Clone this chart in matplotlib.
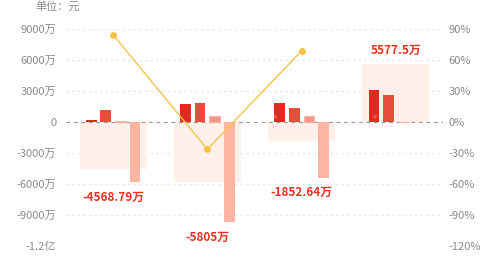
import numpy as np
import matplotlib
matplotlib.use("Agg")
import matplotlib.pyplot as plt

plt.rcParams['font.family'] = ['Noto Sans CJK SC', 'DejaVu Sans']
plt.rcParams['hatch.linewidth'] = 0.4

# Data (万元)
groups = ["G1", "G2", "G3", "G4"]
s1 = [150, 1690, 1790, 3050]
s2 = [1120, 1850, 1365, 2590]
s3 = [100, 525, 525, 0]
s4 = [-5850, -9740, -5400, 0]
totals = [-4568.79, -5805, -1852.64, 5577.5]
total_labels = ["-4568.79万", "-5805万", "-1852.64万", "5577.5万"]
pct = [84.4, -26.6, 68.9, np.nan]

left_ticks = [-12000, -9000, -6000, -3000, 0, 3000, 6000, 9000]
left_labels = ["-1.2亿", "-9000万", "-6000万", "-3000万", "0", "3000万", "6000万", "9000万"]
right_ticks = [-120, -90, -60, -30, 0, 30, 60, 90]
right_labels = ["-120%", "-90%", "-60%", "-30%", "0%", "30%", "60%", "90%"]

fig = plt.figure(figsize=(5, 2.6), dpi=100)
ax = fig.add_axes([0.132, 0.055, 0.754, 0.8335])
ax2 = ax.twinx()

x = np.arange(len(groups))
gray = "#8a8a8a"

# background total rects
ax.bar(x, totals, width=0.71, color="#fff0ea", zorder=1, linewidth=0)

# gridlines
for t in left_ticks:
    if t == 0:
        ax.axhline(0, color="#9a9a9a", lw=0.9, ls=(0, (3, 3)), zorder=1.5)
    else:
        ax.axhline(t, color="#e0e0e0", lw=0.9, ls=(0, (1.5, 3)), zorder=0.5)

w = 0.1135
offs = [-0.233, -0.0785, 0.0785, 0.233]
cols = ["#e02a20", "#e84c3d", "#f2988a", "#fdb4a0"]
series = [s1, s2, s3, s4]
for i, (s, c, o) in enumerate(zip(series, cols, offs)):
    ax.bar(x + o, s, width=w, color=c, zorder=2, linewidth=0)
    if i == 0:
        ax.bar(x + o, s, width=w, facecolor="none", edgecolor="#ea5a4c",
               hatch=".", linewidth=0, zorder=2.1)
    if i == 2:
        ax.bar(x + o, s, width=w, facecolor="none", edgecolor="#f7b3a8",
               linewidth=0.8, zorder=2.1)

# total labels
px_per_unit = 30.8 / 3000.0
for xi, t, lab, a, b, c_, d in zip(x, totals, total_labels, s1, s2, s3, s4):
    vals = [t, a, b, c_, d]
    if t < 0:
        ext = min(vals)
        y = ext - 15 / px_per_unit
    else:
        ext = max(vals)
        y = ext + 14 / px_per_unit
    ax.text(xi, y, lab, ha="center", va="center", color="#e8331f",
            fontsize=8.5, fontweight="bold", zorder=5)

ax.set_xlim(-0.5, 3.5)
ax.set_ylim(-12000, 9000)
ax.set_yticks(left_ticks)
ax.set_yticklabels(left_labels)
ax.tick_params(axis="y", length=0, pad=7, labelsize=8, labelcolor=gray)
ax.set_xticks([])
for sp in ax.spines.values():
    sp.set_visible(False)

# line on right axis
ax2.plot(x, pct, color="#f5c24a", lw=1.0, marker="o", markersize=4,
         markerfacecolor="#f5c24a", markeredgecolor="#f5c24a", zorder=6)
ax2.set_ylim(-120, 90)
ax2.set_yticks(right_ticks)
ax2.set_yticklabels(right_labels)
ax2.tick_params(axis="y", length=0, pad=4, labelsize=8, labelcolor=gray)
for sp in ax2.spines.values():
    sp.set_visible(False)

fig.text(0.07, 0.975, "单位：元", ha="left", va="center", fontsize=8, color=gray)

fig.savefig("out.png", dpi=100)
